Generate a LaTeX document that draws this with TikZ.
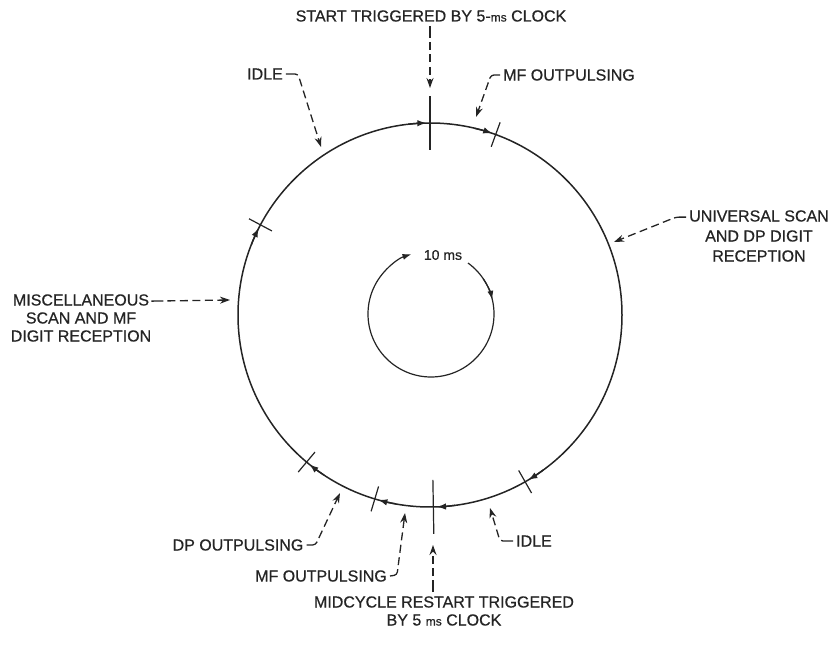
\documentclass[tikz,border=0pt]{standalone}
\usepackage{fontspec}
\setmainfont[FakeBold=0.6]{Liberation Sans}
\usetikzlibrary{arrows.meta,calc}
\definecolor{ink}{HTML}{242424}
\begin{document}
\begin{tikzpicture}[x=1pt,y=1pt,
  lbl/.style={font=\fontsize{16}{19}\selectfont, text=ink, inner sep=0pt, align=center},
  ring/.style={draw=ink, line width=1.5pt},
  innerring/.style={draw=ink, line width=1.2pt},
  tickmark/.style={draw=ink, line width=1.2pt},
  ringtip/.style={draw=ink, line width=1.4pt, -{Latex[length=9pt,width=6.5pt]}},
  leader/.style={draw=ink, line width=1.3pt, rounded corners=3pt,
    dash pattern=on 12pt off 4pt on 8pt off 4.5pt on 8pt off 4.5pt on 8pt off 4.5pt on 8pt off 4.5pt on 8pt off 4.5pt on 8pt off 4.5pt on 8pt off 4.5pt on 8pt off 4.5pt on 8pt off 4.5pt on 8pt off 4.5pt,
    -{Stealth[length=10pt,width=7pt]}}
]
\useasboundingbox (0,0) rectangle (835,645);

% centres
\coordinate (O) at (430,330);
\coordinate (IC) at (431,331);

% outer ring
\draw[ring] (O) circle[radius=192];

% ticks
\foreach \a in {90,271} {
  \draw[tickmark] ($(O)+(\a:165)$) -- ($(O)+(\a:219)$);
}
\foreach \a in {70,152,230,253.3,299.7} {
  \draw[tickmark] ($(O)+(\a:179)$) -- ($(O)+(\a:205)$);
}
% arrowheads on ring (clockwise)
\foreach \a in {90,70,152,230,253.3,271,299.7} {
  \pgfmathsetmacro\sa{\a+6.5}
  \pgfmathsetmacro\ea{\a+1.1}
  \draw[ringtip] ($(O)+(\sa:192)$) arc[start angle=\sa, end angle=\ea, radius=192];
}

% inner ring
\draw[innerring, -{Latex[length=9pt,width=6pt]}] ($(IC)+(54:63)$) arc[start angle=54, end angle=-252, radius=63];
\draw[innerring, -{Latex[length=9pt,width=6pt]}] ($(IC)+(34:63)$) arc[start angle=34, end angle=13, radius=63];
\node[lbl, font=\fontsize{14}{16}\selectfont] (ten) at (443,390) {10 ms};

% labels
\node[lbl] (start) at (431,629) {START TRIGGERED BY 5-{\fontsize{12}{14}\selectfont ms} CLOCK};
\node[lbl] (idleA) at (265,571) {IDLE};
\node[lbl] (mfA) at (569,570) {MF OUTPULSING};
\node[lbl, font=\fontsize{16}{20}\selectfont] (uni) at (759,409) {UNIVERSAL SCAN\\AND DP DIGIT\\RECEPTION};
\node[lbl, font=\fontsize{16}{18}\selectfont] (misc) at (81,327) {MISCELLANEOUS\\SCAN AND MF\\DIGIT RECEPTION};
\node[lbl] (dp) at (238,100) {DP OUTPULSING};
\node[lbl] (mfB) at (321,69) {MF OUTPULSING};
\node[lbl] (idleB) at (534,104) {IDLE};
\node[lbl, font=\fontsize{16}{18}\selectfont] (mid) at (444,34) {MIDCYCLE RESTART TRIGGERED\\BY 5 {\fontsize{12}{14}\selectfont ms} CLOCK};

% leader tips
\coordinate (tStart) at (430,557);
\coordinate (tIdleA) at (321,498);
\coordinate (tMFA) at (476,528);
\coordinate (tUni) at (614,403);
\coordinate (tMisc) at (230,345);
\coordinate (tDP) at (340,152);
\coordinate (tMFB) at (405,132);
\coordinate (tIdleB) at (490,137);
\coordinate (tMid) at (433,100);

% leaders
\draw[leader] ([yshift=-4pt]start.south -| tStart) -- (tStart);
\draw[leader] ([xshift=3pt]idleA.east) -- ++(12,0) -- (tIdleA);
\draw[leader] ([xshift=-3pt]mfA.west) -- ++(-9,0) -- (tMFA);
\draw[leader] ($(uni.north west)+(-3,-7)$) -- ++(-10,0) -- (tUni);
\draw[leader] ($(misc.north east)+(0,-7)$) -- (tMisc);
\draw[leader] ([xshift=3pt]dp.east) -- ++(9,0) -- (tDP);
\draw[leader] ([xshift=3pt]mfB.east) -- ++(7,1) -- (tMFB);
\draw[leader] ([xshift=-3pt]idleB.west) -- ++(-13,0) -- (tIdleB);
\draw[leader] ([yshift=4pt]mid.north -| tMid) -- (tMid);
\end{tikzpicture}
\end{document}
